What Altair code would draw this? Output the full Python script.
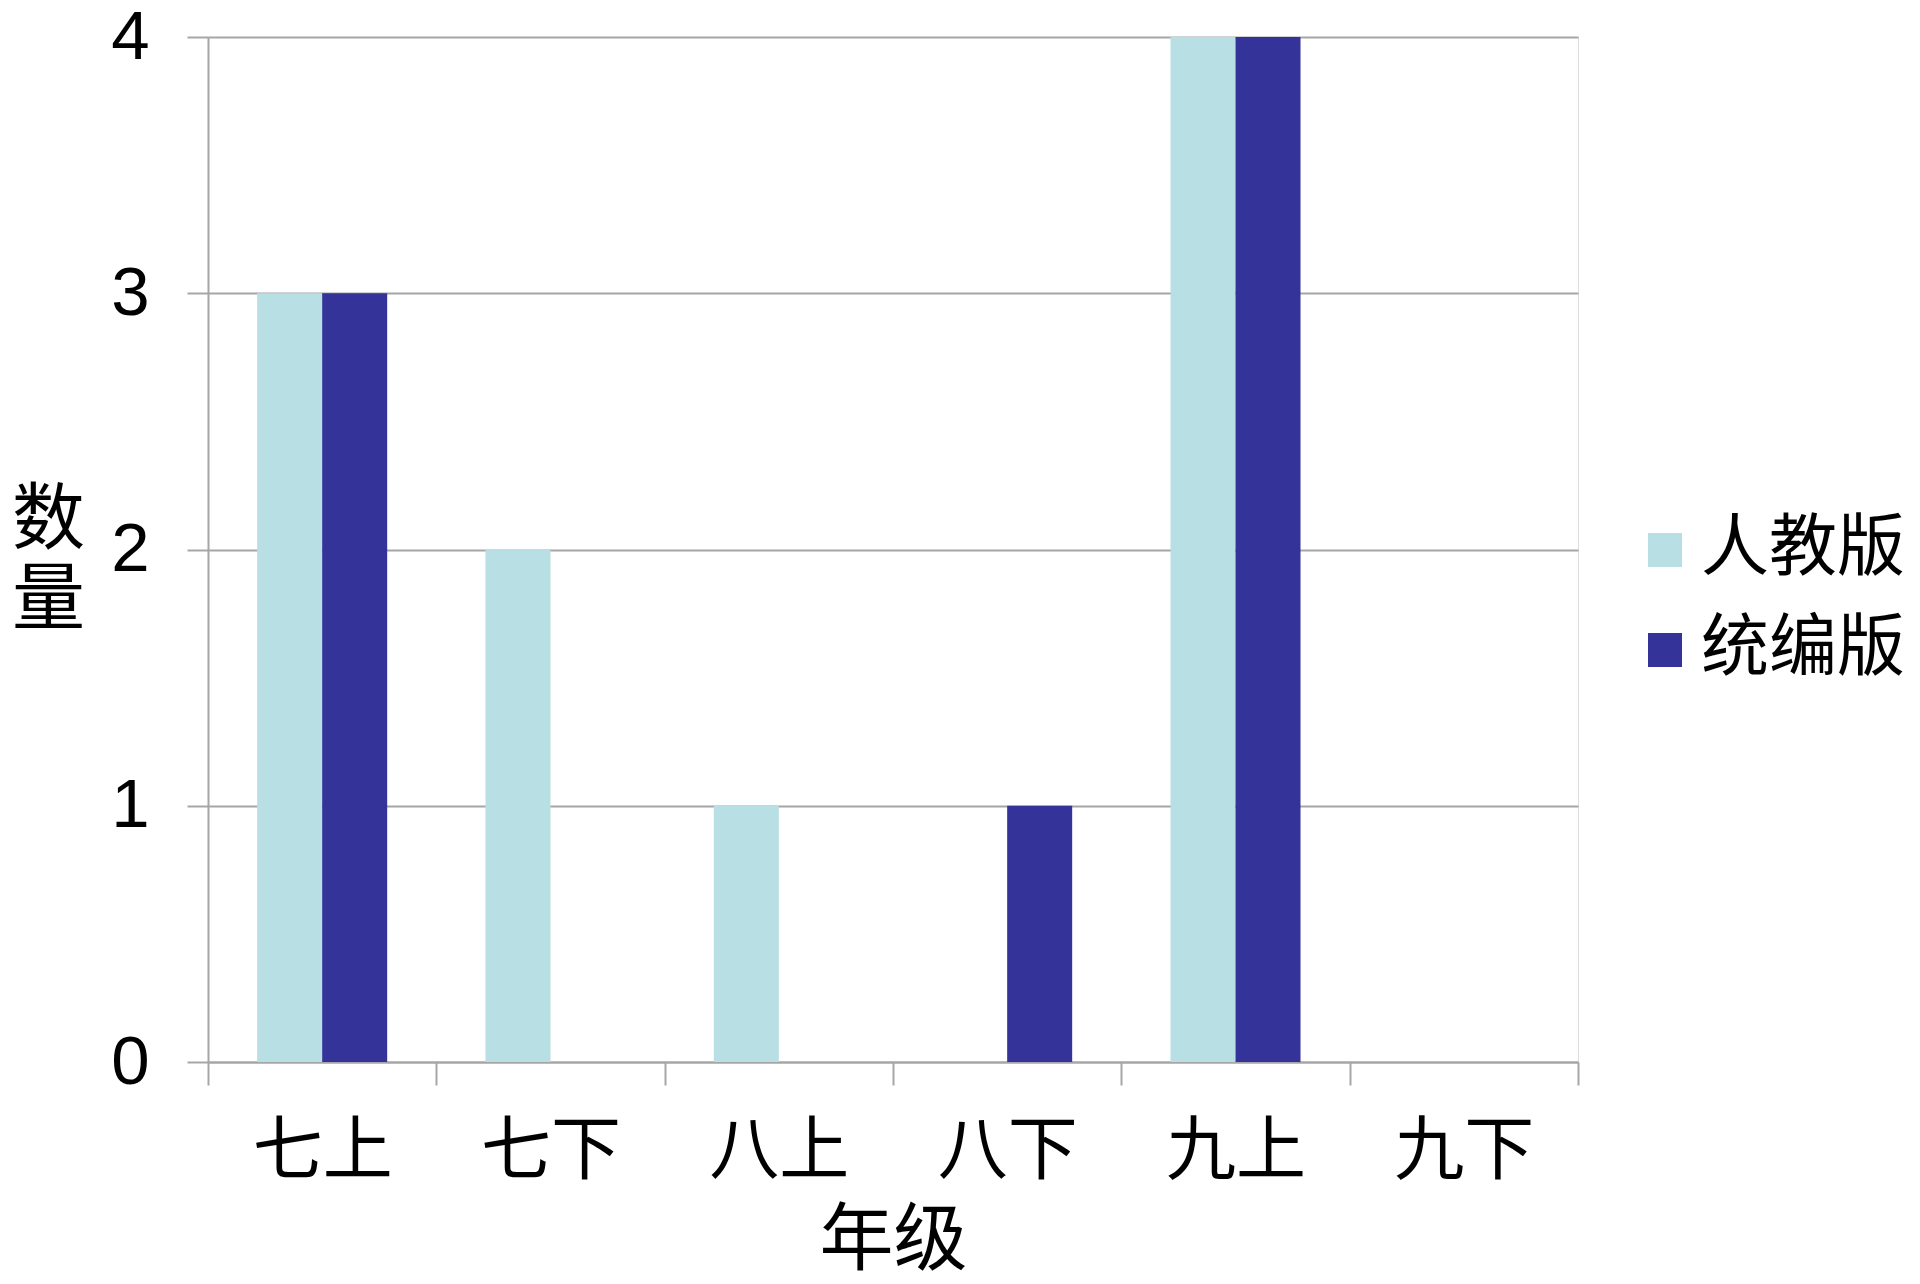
import altair as alt
import pandas as pd

categories = ["七上", "七下", "八上", "八下", "九上", "九下"]
series_names = ["人教版", "统编版"]
renjiao = [3, 2, 1, 0, 4, 0]
tongbian = [3, 0, 0, 1, 4, 0]
y_ticks = [0, 1, 2, 3, 4]
colors = ["#B8DFE3", "#333399"]

rows = []
for c, a, b in zip(categories, renjiao, tongbian):
    rows.append({"年级": c, "版本": series_names[0], "数量": a})
    rows.append({"年级": c, "版本": series_names[1], "数量": b})
df = pd.DataFrame(rows)

cjk = "Noto Sans CJK SC"
num_font = "Liberation Sans"
grid_color = "#A6A6A6"

chart = alt.Chart(df).mark_bar().encode(
    x=alt.X("年级:N", sort=categories,
            scale=alt.Scale(paddingInner=0, paddingOuter=0),
            axis=alt.Axis(title="年级", labelAngle=0, tickBand="extent",
                          labelFont=cjk, labelFontSize=70, labelColor="#000000",
                          labelPadding=33, labelBaseline="top",
                          tickSize=23, tickColor=grid_color, tickWidth=2,
                          domainColor=grid_color, domainWidth=2,
                          titleFont=cjk, titleFontSize=74, titleFontWeight="normal",
                          titleColor="#000000", titleBaseline="middle",
                          titleY=179, titleX=685, grid=False)),
    xOffset=alt.XOffset("版本:N", sort=series_names,
                        scale=alt.Scale(paddingInner=0, paddingOuter=0.756)),
    y=alt.Y("数量:Q",
            scale=alt.Scale(domain=[0, 4], nice=False),
            axis=alt.Axis(values=y_ticks, format="d",
                          title=["数", "量"], titleAngle=0,
                          titleFont=cjk, titleFontSize=73, titleFontWeight="normal",
                          titleColor="#000000", titleLineHeight=80,
                          titleAlign="center", titleBaseline="middle",
                          titleX=-160, titleY=483,
                          labelFont=num_font, labelFontSize=69, labelColor="#000000",
                          labelPadding=38,
                          tickSize=21, tickColor=grid_color, tickWidth=2,
                          domainColor=grid_color, domainWidth=2,
                          grid=True, gridColor=grid_color, gridWidth=2)),
    color=alt.Color("版本:N", sort=series_names,
                    scale=alt.Scale(domain=series_names, range=colors),
                    legend=alt.Legend(title=None, orient="none",
                                      legendX=1423, legendY=479,
                                      symbolType="square", symbolSize=1156,
                                      symbolStrokeWidth=0,
                                      labelFont=cjk, labelFontSize=68,
                                      labelColor="#000000", labelOffset=2,
                                      rowPadding=32, labelLimit=400)),
).properties(
    width=1370,
    height=1025,
    autosize=alt.AutoSizeParams(type="none"),
    padding={"left": 200, "top": 29, "right": 334, "bottom": 214},
).configure_view(stroke=None).configure(background="#FFFFFF")

chart.save("out.html", embed_options={"renderer": "svg", "actions": False})
